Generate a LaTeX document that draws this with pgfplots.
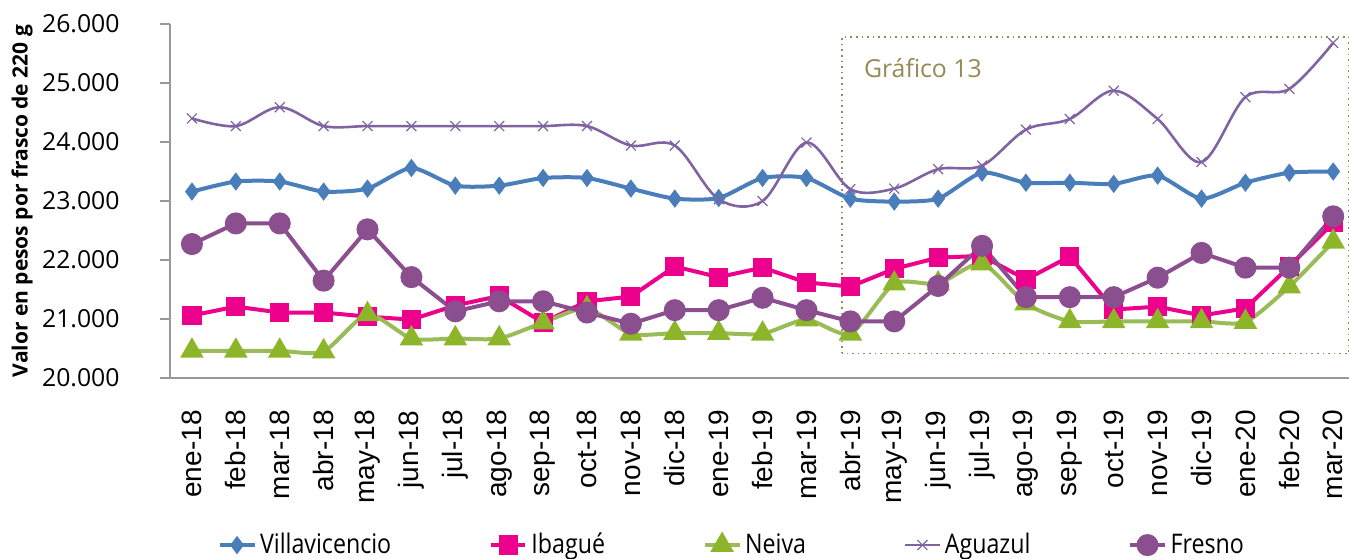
\documentclass[border=0pt]{standalone}
\usepackage{pgfplots}
\pgfplotsset{compat=1.18}
\usepackage{fontspec}
\setmainfont{Open Sans}
\newfontfamily\xfont{Liberation Sans}
\newfontfamily\legfont[FakeStretch=0.86]{Open Sans}
\definecolor{cvil}{HTML}{4A7EBB}
\definecolor{ciba}{HTML}{EC008C}
\definecolor{cnei}{HTML}{9BBB59}
\definecolor{cneim}{HTML}{8DB52A}
\definecolor{cagu}{HTML}{8064A2}
\definecolor{cfre}{HTML}{8B4E8E}
\definecolor{cbox}{HTML}{948A54}
\begin{document}
\begin{tikzpicture}
\begin{axis}[
  name=ax,
  scale only axis,
  width=589.5pt, height=177pt,
  xmin=-0.5, xmax=26.36,
  ymin=20000, ymax=26000,
  ytick={20000,21000,...,26000},
  scaled y ticks=false,
  xtick={0,...,26},
  xticklabels={ene-18,feb-18,mar-18,abr-18,may-18,jun-18,jul-18,ago-18,sep-18,oct-18,nov-18,dic-18,ene-19,feb-19,mar-19,abr-19,may-19,jun-19,jul-19,ago-19,sep-19,oct-19,nov-19,dic-19,ene-20,feb-20,mar-20},
  axis x line=bottom, axis y line=left,
  axis line style={draw=gray!80, line width=0.8pt, -},
  x tick style={draw=none},
  y tick style={draw=gray!80, line width=0.8pt},
  tick align=outside,
  major tick length=5pt,
  yticklabel={\pgfmathprintnumber[fixed, precision=0, 1000 sep={.}, assume math mode=true]{\tick}},
  yticklabel style={font=\fontsize{12.4}{14}\selectfont, inner sep=0pt, xshift=-20pt},
  xticklabel style={rotate=90, anchor=east, inner sep=0pt, font=\xfont\fontsize{14}{15}\selectfont},
  xticklabel shift=11pt,
  ylabel={\textbf{Valor en pesos por frasco de 220 g}},
  ylabel style={at={(axis description cs:-0.1255,0.5)}, anchor=center, font=\fontsize{10.5}{12}\selectfont},
  clip=false,
  legend columns=5,
  legend style={draw=none, at={(axis description cs:0.4775,-0.472)}, anchor=center,
    font=\legfont\fontsize{13.5}{15}\selectfont, /tikz/every even column/.append style={column sep=47pt}},
]
\draw[cbox, dotted, line width=0.8pt] (axis cs:14.81,20416) rectangle (axis cs:26.36,25780);
\node[anchor=west, text=cbox, font=\fontsize{12.4}{14}\selectfont] at (axis cs:15.15,25255) {Gráfico 13};

\addplot[cvil, line width=2pt, smooth, tension=0.4, mark=diamond*, mark size=4.2pt, mark options={fill=cvil, draw=cvil, line width=0.5pt}] coordinates {
(0,23160)(1,23330)(2,23330)(3,23160)(4,23210)(5,23560)(6,23260)(7,23260)(8,23390)(9,23390)(10,23210)(11,23040)(12,23050)(13,23390)(14,23390)(15,23040)(16,22990)(17,23040)(18,23480)(19,23310)(20,23310)(21,23290)(22,23430)(23,23040)(24,23310)(25,23480)(26,23500)};
\addlegendentry{Villavicencio}

\addplot[ciba, line width=2pt, mark=square*, mark size=3.8pt, mark options={fill=ciba, draw=ciba}] coordinates {
(0,21060)(1,21210)(2,21110)(3,21110)(4,21040)(5,20990)(6,21230)(7,21390)(8,20940)(9,21300)(10,21380)(11,21890)(12,21710)(13,21870)(14,21620)(15,21550)(16,21850)(17,22040)(18,22070)(19,21670)(20,22060)(21,21160)(22,21210)(23,21060)(24,21180)(25,21890)(26,22630)};
\addlegendentry{Ibagué}

\addplot[cnei, line width=2pt, smooth, tension=0.4, mark=triangle*, mark size=4.8pt, mark options={fill=cneim, draw=cneim}] coordinates {
(0,20460)(1,20460)(2,20460)(3,20450)(4,21080)(5,20670)(6,20670)(7,20670)(8,20940)(9,21180)(10,20750)(11,20760)(12,20760)(13,20750)(14,20990)(15,20750)(16,21600)(17,21600)(18,21940)(19,21260)(20,20960)(21,20960)(22,20960)(23,20960)(24,20950)(25,21550)(26,22310)};
\addlegendentry{Neiva}

\addplot[cagu, line width=1.3pt, smooth, tension=0.55, mark=x, mark size=3.5pt, mark options={draw=cagu, line width=0.6pt}] coordinates {
(0,24400)(1,24270)(2,24590)(3,24270)(4,24270)(5,24270)(6,24270)(7,24270)(8,24270)(9,24270)(10,23940)(11,23940)(12,23030)(13,23000)(14,23990)(15,23200)(16,23210)(17,23540)(18,23600)(19,24210)(20,24390)(21,24870)(22,24390)(23,23660)(24,24760)(25,24900)(26,25680)};
\addlegendentry{Aguazul}

\addplot[cfre, line width=2pt, mark=*, mark size=4.5pt, mark options={fill=cfre, draw=cfre}] coordinates {
(0,22270)(1,22620)(2,22620)(3,21650)(4,22520)(5,21710)(6,21130)(7,21300)(8,21300)(9,21110)(10,20920)(11,21150)(12,21150)(13,21360)(14,21150)(15,20960)(16,20960)(17,21560)(18,22240)(19,21370)(20,21370)(21,21370)(22,21700)(23,22120)(24,21870)(25,21870)(26,22740)};
\addlegendentry{Fresno}
\end{axis}
\pgfresetboundingbox
\path[use as bounding box] ([xshift=-85pt, yshift=-90pt]ax.south west) rectangle ([yshift=12pt]ax.north east);
\end{tikzpicture}
\end{document}
